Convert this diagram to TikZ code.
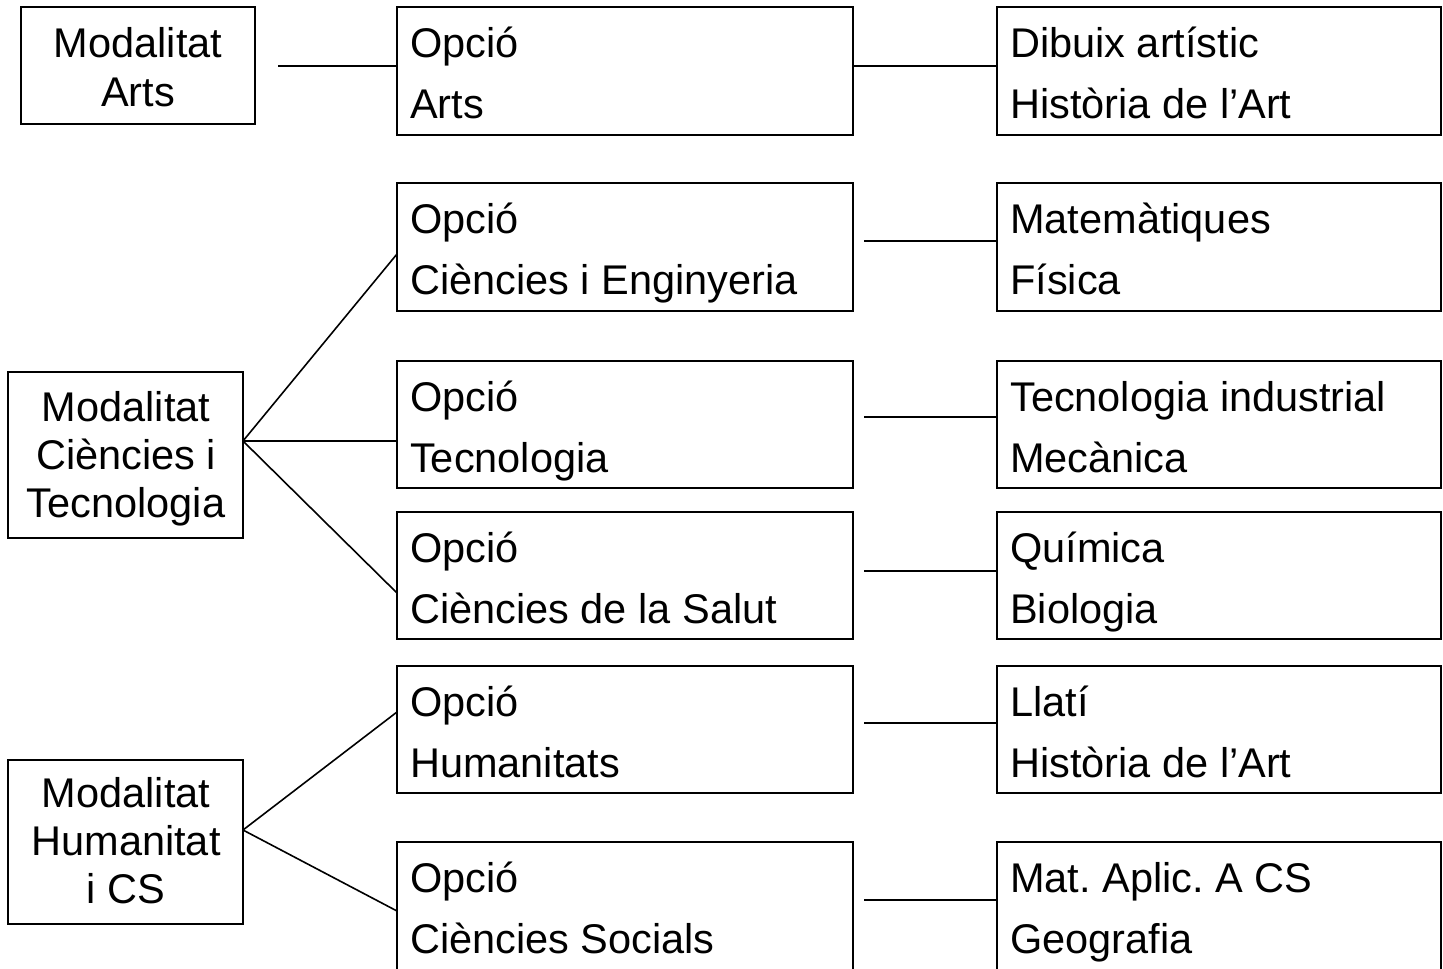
\documentclass[tikz,border=0pt]{standalone}
\usepackage{fontspec}
\setmainfont{Liberation Sans}
\frenchspacing
\usetikzlibrary{calc}
\tikzset{
  box/.style={draw=black, line width=1.6pt, anchor=north west, inner sep=0pt, outer sep=0pt},
  txt/.style={anchor=base west, inner sep=0pt, font=\fontsize{41.5}{48}\selectfont},
  ctxt/.style={anchor=base, inner sep=0pt, font=\fontsize{41.5}{48}\selectfont},
  conn/.style={draw=black, line width=1.6pt}
}
\begin{document}
\begin{tikzpicture}[x=1pt,y=-1pt]
\useasboundingbox (0,0) rectangle (1443,969);
\clip (0,0) rectangle (1443,969);
% left boxes
\node[box, minimum width=234pt, minimum height=117pt] (ma) at (21,7) {};
\node[box, minimum width=235pt, minimum height=166pt] (mc) at (8,372) {};
\node[box, minimum width=235pt, minimum height=164pt] (mh) at (8,760) {};
\node[ctxt] (ma1) at (138,57) {Modalitat};
\node[ctxt] (ma2) at (138,106) {Arts};
\node[ctxt] (mc1) at (126,421) {Modalitat};
\node[ctxt] (mc2) at (126,469) {Ciències i};
\node[ctxt] (mc3) at (126,517) {Tecnologia};
\node[ctxt] (mh1) at (126,807) {Modalitat};
\node[ctxt] (mh2) at (126,855) {Humanitat};
\node[ctxt] (mh3) at (126,903) {i CS};
% option boxes
\foreach \n/\t/\h in {1/7/128, 2/183/128, 3/361/127, 4/512/127, 5/666/127, 6/842/140}{
  \node[box, minimum width=456pt, minimum height=\h pt] (o\n) at (397,\t) {};
  \node[box, minimum width=444pt, minimum height=\h pt] (r\n) at (997,\t) {};
}
\foreach \n/\a/\b/\c/\d in {
  1/Opció/Arts/Dibuix artístic/Història de l’Art,
  2/Opció/Ciències i Enginyeria/Matemàtiques/Física,
  3/Opció/Tecnologia/Tecnologia industrial/Mecànica,
  4/Opció/Ciències de la Salut/Química/Biologia,
  5/Opció/Humanitats/Llatí/Història de l’Art,
  6/Opció/Ciències Socials/Mat. Aplic. A CS/Geografia}{
  \node[txt] (o\n a) at ($(o\n.north west)+(13,50)$) {\a};
  \node[txt] (o\n b) at ($(o\n.north west)+(13,111)$) {\b};
  \node[txt] (r\n a) at ($(r\n.north west)+(13,50)$) {\c};
  \node[txt] (r\n b) at ($(r\n.north west)+(13,111)$) {\d};
}
% connectors
\coordinate (s1) at (278,66);
\draw[conn] (s1) -- (s1 -| o1.west);
\draw[conn] (o1.east |- 0,66) -- (r1.west |- 0,66);
\foreach \n/\y in {2/241, 3/417, 4/571, 5/723, 6/900}{
  \coordinate (m\n) at (864,\y);
  \draw[conn] (m\n) -- (m\n -| r\n.west);
}
\coordinate (ca) at ($(mc.north east)+(0,69)$);
\draw[conn] (ca) -- ($(o2.north west)+(0,71)$);
\draw[conn] (ca) -- (ca -| o3.west);
\draw[conn] (ca) -- ($(o4.north west)+(0,81)$);
\coordinate (ha) at ($(mh.north east)+(0,70)$);
\draw[conn] (ha) -- ($(o5.north west)+(0,46)$);
\draw[conn] (ha) -- ($(o6.north west)+(0,69)$);
\end{tikzpicture}
\end{document}
